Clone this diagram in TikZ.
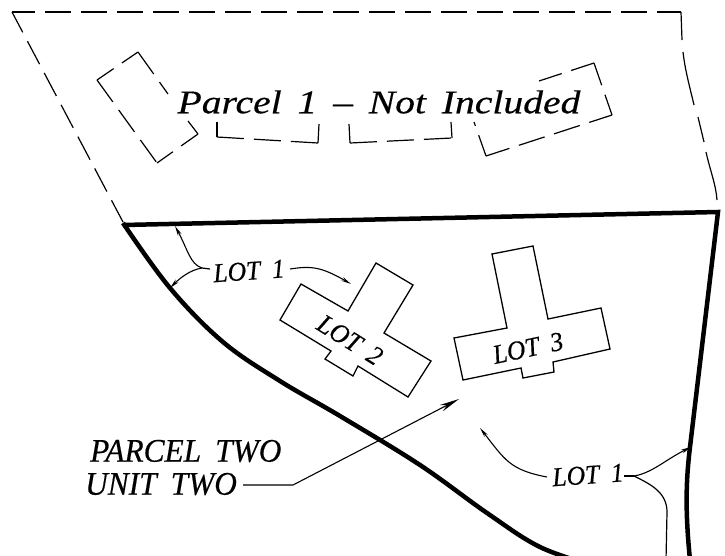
\documentclass[tikz,border=0pt]{standalone}
\usepackage{fontspec}
\usepackage{tikz}
\usetikzlibrary{arrows.meta, positioning, calc}
\newfontfamily\cadfont{Liberation Serif}[FakeStretch=1.2, WordSpace=1.6, FakeBold=0.4]
\newfontfamily\capfont{Liberation Serif}[FakeStretch=0.95, WordSpace=1.8, FakeBold=0.4]

\begin{document}
\begin{tikzpicture}[
    x=1pt, y=-1pt,
    % Line styles
    parcelline/.style={line width=1.2pt, dash pattern=on 26pt off 10pt},
    buildingdash/.style={line width=1.2pt, dash pattern=on 27pt off 10pt},
    thinline/.style={line width=1.2pt},
    boundary/.style={line width=4.5pt, line join=miter},
    building/.style={line width=1.3pt, line join=miter},
    leader/.style={line width=1.1pt, -{Stealth[length=10pt, width=4pt]}},
    bigleader/.style={line width=1.1pt, -{Stealth[length=20pt, width=7pt]}},
    % Text styles
    biglabel/.style={inner sep=0pt, font=\cadfont\itshape\fontsize{33}{33}\selectfont},
    caplabel/.style={inner sep=0pt, font=\capfont\itshape\fontsize{33}{33}\selectfont},
    lotlabel/.style={inner sep=0pt, font=\capfont\itshape\fontsize{27}{27}\selectfont}
]
\clip (0,0) rectangle (725,555);

% Parcel 1 outline
\draw[parcelline, dash phase=3pt] (12,12) -- (681,12);
\draw[parcelline, dash phase=3pt] (12,12) -- (123,222);
\draw[thinline] (681,12) -- (682,40)
    (683,52) .. controls (685,70) and (690,88) .. (694,105)
    (698,117) -- (704,142)
    (706,152) .. controls (710,170) and (716,185) .. (717,200);

% Parcel 1 building, broken by its label
\draw[buildingdash, dash phase=0pt] (138,52) -- (168,94);
\draw[buildingdash, dash phase=7.5pt] (138,52) -- (97,80);
\draw[buildingdash, dash phase=0pt] (97,80) -- (157,163);
\draw[buildingdash, dash phase=7.5pt] (157,163) -- (198,134);
\draw[thinline] (198,134) -- (188,121);
\draw[thinline] (217,122) -- (217,137);
\draw[buildingdash, dash phase=0pt] (217,137) -- (318,143);
\draw[thinline] (318,143) -- (319,124);
\draw[thinline] (349,124) -- (350,143);
\draw[buildingdash, dash phase=0pt] (350,143) -- (452,138);
\draw[thinline] (452,138) -- (451,122);
\draw[buildingdash, dash phase=5pt] (486,156) -- (474,122);
\draw[buildingdash, dash phase=2.4pt] (486,156) -- (612,115);
\draw[buildingdash, dash phase=5.5pt] (612,115) -- (594,63);
\draw[buildingdash, dash phase=3pt] (594,63) -- (539,81);

% Parcel two boundary
\draw[boundary] (123,225) -- (718,212) -- (690,447)
    .. controls (686,480) and (685,510) .. (690,560);
\draw[boundary] plot[smooth, tension=0.6] coordinates {(123,223) (170,288)
    (223,342) (280,381) (340,416) (420,465) (487,513) (540,547) (595,566)};

% Buildings
\draw[building] (376,263) -- (413,285) -- (384,333) -- (431,361) -- (408,397)
    -- (358,366) -- (353,376) -- (325,359) -- (331,351) -- (280,320)
    -- (301,284) -- (348,311) -- cycle;
\draw[building] (492,254) -- (533,246) -- (548,319) -- (601,308) -- (610,349)
    -- (553,362) -- (554,372) -- (523,378) -- (521,368) -- (463,380)
    -- (454,338) -- (507,328) -- cycle;

% Labels
\node[biglabel] (parcel_one) at (379,102) {Parcel 1 – Not Included};
\node[caplabel, anchor=west] (parcel_two) at (90,451) {PARCEL TWO};
\node[caplabel, anchor=west] (unit_two) at (85,484) {UNIT TWO};
\node[lotlabel, rotate=4] (lot_one_top) at (249,271) {LOT 1};
\node[lotlabel, rotate=-32] (lot_two) at (350,340) {LOT 2};
\node[lotlabel, rotate=12] (lot_three) at (528,348) {LOT 3};
\node[lotlabel, rotate=4] (lot_one_low) at (588,475) {LOT 1};

% Leaders
\coordinate (fork_top) at (202,268);
\coordinate (fork_low) at (634,476);
\draw[thinline] (210,269) -- (fork_top);
\draw[leader] (fork_top) .. controls (190,264) and (188,250) .. (175,226);
\draw[leader] (fork_top) .. controls (190,270) and (180,278) .. (170,288);
\draw[leader] (290,269) .. controls (310,266) and (320,266) .. (351,284);
\draw[leader] (547,477) .. controls (510,470) and (505,460) .. (480,428);
\draw[thinline] (624,476) -- (fork_low);
\draw[leader] (fork_low) .. controls (652,473) and (665,460) .. (691,447);
\draw[thinline] (fork_low) .. controls (650,484) and (667,492) .. (667,512) -- (666,560);
\draw[bigleader] (243,485) -- (293,485) -- (459,399);

\end{tikzpicture}
\end{document}
